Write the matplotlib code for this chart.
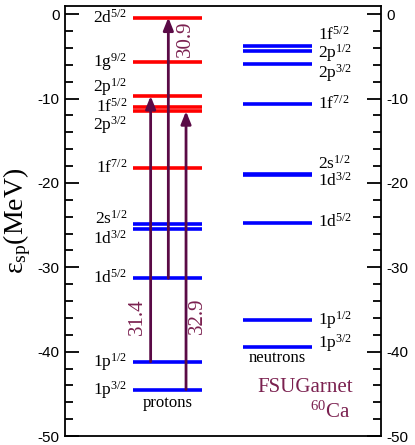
import matplotlib
matplotlib.use('Agg')
import matplotlib.pyplot as plt

# single-particle energies (MeV), 60Ca, FSUGarnet
proton_levels = [-0.4, -5.7, -9.7, -11.0, -11.5, -18.2, -24.85, -25.45, -31.3, -41.2, -44.5]
proton_names = ['2d$^{5/2}$', '1g$^{9/2}$', '2p$^{1/2}$', '1f$^{5/2}$', '2p$^{3/2}$', '1f$^{7/2}$',
                '2s$^{1/2}$', '1d$^{3/2}$', '1d$^{5/2}$', '1p$^{1/2}$', '1p$^{3/2}$']
proton_occupied = [False, False, False, False, False, False, True, True, True, True, True]

neutron_levels = [-3.73, -4.36, -5.95, -10.67, -18.9, -19.1, -24.7, -36.3, -39.5]
neutron_names = ['1f$^{5/2}$', '2p$^{1/2}$', '2p$^{3/2}$', '1f$^{7/2}$',
                 '2s$^{1/2}$', '1d$^{3/2}$', '1d$^{5/2}$', '1p$^{1/2}$', '1p$^{3/2}$']

# proton transitions: (from level index, to level index, gap label)
transitions = [(9, 2, '31.4'), (8, 0, '30.9'), (10, 4, '32.9')]

# layout
proton_label_y = [-0.4, -5.7, -8.7, -11.0, -13.2, -18.2, -24.2, -26.6, -31.3, -41.2, -44.5]
neutron_label_y = [-2.4, -4.6, -7.0, -10.6, -17.7, -19.7, -24.6, -36.2, -39.0]
arrow_x = [0.271, 0.327, 0.383]
gap_text_pos = [(0.229, -35.8), (0.382, -2.9), (0.418, -35.8)]

red = '#ff0000'
blue = '#0000ff'
arrow_color = '#5a0a46'
garnet = '#7b2150'
serif = 'Liberation Serif'

plt.rcParams['mathtext.fontset'] = 'custom'
plt.rcParams['mathtext.rm'] = serif
plt.rcParams['mathtext.default'] = 'regular'
plt.rcParams['axes.unicode_minus'] = False
plt.rcParams['font.family'] = 'Liberation Sans'

fig = plt.figure(figsize=(4.15, 4.45), dpi=100)
ax = fig.add_axes([65 / 415, 9 / 445, 316 / 415, 430.3 / 445])

ax.set_xlim(0, 1)
ax.set_ylim(-50, 1)

# proton levels
for e, name, occ, ly in zip(proton_levels, proton_names, proton_occupied, proton_label_y):
    ax.hlines(e, 0.215, 0.434, color=blue if occ else red, lw=2.6)
    ax.text(0.197, ly, name, ha='right', va='center', fontsize=12.5, family=serif)

# neutron levels
for e, name, ly in zip(neutron_levels, neutron_names, neutron_label_y):
    ax.hlines(e, 0.564, 0.783, color=blue, lw=2.6)
    ax.text(0.802, ly, name, ha='left', va='center', fontsize=12.5, family=serif)

# particle-hole arrows
for (i, j, lab), x, (tx, ty) in zip(transitions, arrow_x, gap_text_pos):
    ax.annotate('', xy=(x, proton_levels[j]), xytext=(x, proton_levels[i]),
                arrowprops=dict(arrowstyle='-|>,head_length=0.75,head_width=0.3',
                                color=arrow_color, lw=2, shrinkA=0, shrinkB=0))
    ax.text(tx, ty, lab, rotation=90, ha='center', va='center', fontsize=15,
            family=serif, color=garnet)

ax.text(0.3245, -46.1, 'protons', ha='center', va='center', fontsize=12, family=serif)
ax.text(0.673, -40.8, 'neutrons', ha='center', va='center', fontsize=12, family=serif)
ax.text(0.76, -44.2, 'FSUGarnet', ha='center', va='center', fontsize=15, family=serif, color=garnet)
ax.text(0.84, -47.2, '$^{60}$Ca', ha='center', va='center', fontsize=15, family=serif, color=garnet)

ax.set_ylabel('ε$_{sp}$(MeV)', fontsize=20, family=serif, labelpad=3)

ax.set_xticks([])
ax.set_yticks(range(-50, 1, 10))
ax.set_yticks(range(-50, 1, 2), minor=True)
ax.tick_params(axis='y', which='both', direction='in', left=True, right=True,
               labelleft=True, labelright=True, labelsize=11, width=1.3)
ax.tick_params(axis='y', which='major', length=10, pad=4)
ax.tick_params(axis='y', which='minor', length=5.5)
for s in ax.spines.values():
    s.set_linewidth(1.3)

fig.savefig('out.png', dpi=100)
